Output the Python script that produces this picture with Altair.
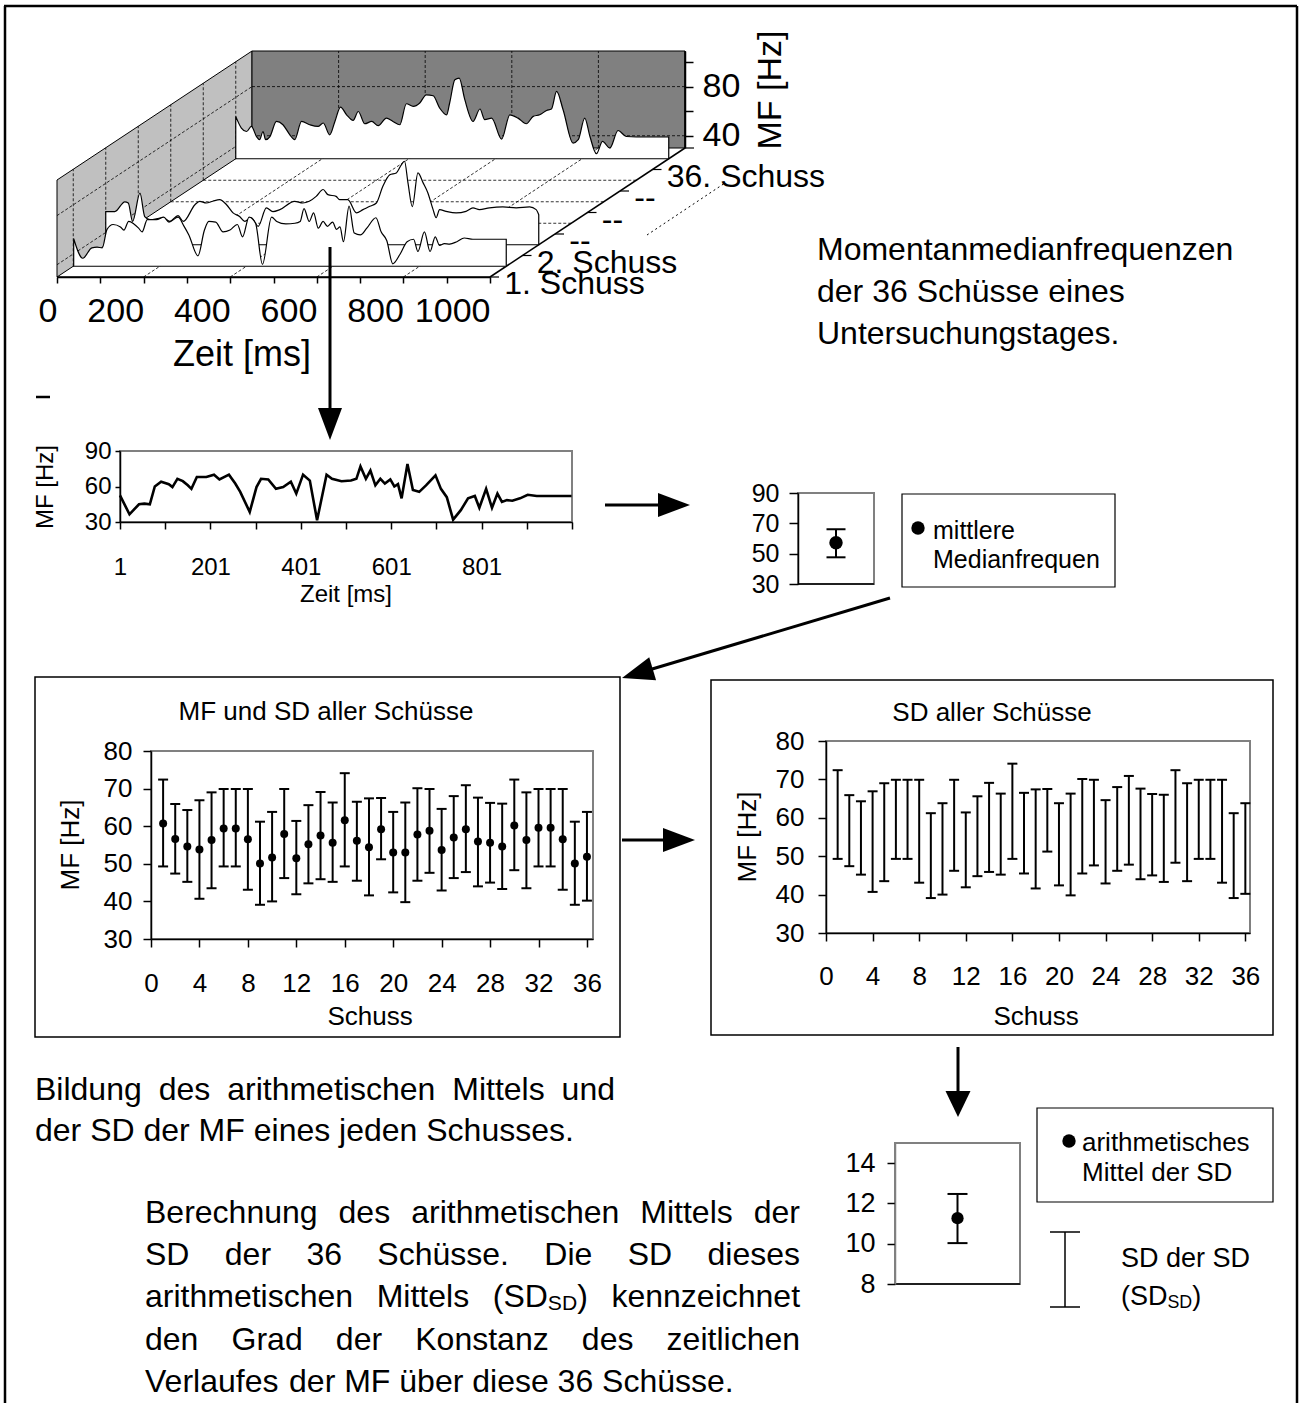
import math
import re
import altair as alt
import pandas as pd

FONT = "Liberation Sans"

# ------------------------------------------------------------------ data
# MF time course of shot 1 (line chart and front trace of the 3D chart)
shot1_time = [1, 22, 43, 55, 67, 78, 92, 109, 117, 128, 140, 151, 159, 171, 192, 209, 221, 242, 256, 267,
              288, 303, 313, 329, 346, 362, 379, 391, 406, 421, 437, 458, 470, 491, 512, 524, 533, 545, 555,
              566, 577, 587, 599, 608, 616, 624, 637, 649, 663, 678, 699, 711, 724, 738, 755, 771, 786, 796,
              811, 824, 836, 846, 857, 869, 886, 903, 923, 1000]
shot1_mf = [52.5, 36.5, 45, 45.5, 45, 60, 64, 62, 59.5, 66.5, 64.5, 61, 58, 68, 68, 70, 66, 70, 62.5, 55.5,
            38.5, 59.5, 66.5, 66, 58, 59.5, 64, 54, 70, 65, 31.5, 70, 66.5, 64.5, 65, 66.5, 77, 66.5, 73.5,
            61, 66.5, 62.5, 66, 60, 62, 50, 79, 57, 55.5, 61, 69.5, 58, 51, 32, 40, 50, 52, 42, 58, 42, 54,
            47, 48.5, 48, 50, 53, 52, 52]
# shot 2 (second trace of the 3D chart)
shot2_time = [0, 21, 44, 52, 62, 79, 90, 102, 132, 148, 167, 179, 206, 217, 232, 247, 263, 279, 294, 309,
              321, 336, 352, 371, 386, 402, 436, 455, 470, 486, 502, 513, 532, 540, 559, 579, 594, 610, 625,
              640, 656, 671, 683, 690, 698, 708, 721, 733, 744, 756, 763, 771, 786, 809, 832, 848, 863, 886,
              917, 948, 979, 994, 1000]
shot2_mf = [57, 57, 65, 64, 49, 72, 53, 50.4, 52, 49, 53.7, 49, 62.6, 65.4, 64, 65.4, 66.7, 62.6, 56, 53,
            49, 52, 45, 60, 57, 58.6, 65.4, 64, 65.4, 69.4, 75, 70.8, 69.4, 66.7, 66.7, 56, 58.6, 61.3, 64,
            77.6, 87, 88.5, 95.3, 98, 80.4, 61, 88.5, 80.4, 72.2, 58.6, 52, 58.6, 57.2, 55.9, 57.2, 60, 58.6,
            60, 60.8, 60, 60.8, 58.6, 54.5]
# shot 36 (back trace of the 3D chart)
shot36_time = [0, 13, 25, 36, 48, 55, 63, 69, 79, 94, 109, 125, 136, 152, 171, 190, 202, 217, 229, 242,
               256, 271, 283, 298, 314, 329, 348, 363, 379, 394, 410, 425, 440, 456, 471, 487, 494, 506, 516,
               529, 548, 564, 575, 591, 614, 633, 652, 671, 687, 702, 718, 729, 741, 756, 779, 791, 806, 818,
               833, 847, 864, 883, 902, 925, 1000]
shot36_mf = [64.5, 55, 52.2, 56.3, 48.1, 45.5, 52.2, 45.5, 48.1, 60.4, 57.7, 49.5, 45.5, 60.4, 57.7, 56.3,
             59.1, 49.5, 60.4, 72.1, 65.8, 61.2, 68.5, 58.5, 60.4, 56.9, 63.1, 60.4, 57.7, 74.8, 72.6, 75.4,
             82.1, 81.3, 71.3, 65.8, 75.4, 94.3, 95.7, 78.1, 60.4, 70.5, 61.8, 63.1, 46, 65.8, 63.1, 58.5,
             64.5, 65.8, 69.3, 70.5, 84.8, 69.9, 42.8, 45.5, 63.1, 48.1, 34.1, 44.1, 38.7, 53, 48.1, 47.7,
             47.7]
series_labels = ["1. Schuss", "2. Schuss", "--", "--", "--", "36. Schuss"]

shot_no = list(range(1, 37))
shot_mean = [60.7, 56.6, 54.6, 53.8, 56.3, 59.4, 59.4, 56.5, 50.1, 51.7, 57.9, 51.5, 55.2, 57.5, 55.6, 61.6,
             56.1, 54.4, 59.2, 53.0, 53.0, 57.8, 58.8, 53.7, 57.0, 59.2, 55.9, 55.6, 54.6, 60.2, 56.3, 59.6,
             59.6, 56.5, 50.1, 51.9]
shot_upper = [72.4, 65.9, 64.3, 66.9, 69.0, 69.9, 69.9, 69.9, 61.2, 63.8, 69.9, 61.4, 65.6, 69.1, 66.3, 74.1,
              66.5, 67.4, 67.5, 63.8, 66.3, 70.1, 69.9, 64.6, 68.0, 70.9, 67.6, 66.2, 66.0, 72.4, 69.0, 69.9,
              69.9, 69.9, 61.2, 63.8]
shot_lower = [49.3, 47.4, 45.2, 40.7, 43.5, 49.3, 49.3, 43.1, 39.1, 40.0, 46.2, 41.9, 44.8, 45.9, 45.2, 49.3,
              45.5, 41.6, 51.2, 42.4, 39.8, 45.5, 47.6, 42.9, 46.2, 47.8, 44.0, 45.0, 43.3, 48.3, 43.5, 49.3,
              49.3, 43.1, 39.1, 40.2]
day_mean, day_upper, day_lower = [57.2], [66.1], [47.6]
sd_mean, sd_upper, sd_lower = [11.27], [12.47], [10.03]

time_ticks = list(range(0, 1001, 100))
lc_ticks = list(range(1, 1002, 100))
mf_ticks_3d = [40, 60, 80, 100]
shot_ticks = list(range(0, 37, 4))
mf_ticks = [30, 40, 50, 60, 70, 80]

# ------------------------------------------------------------------ helpers
W, H = 1300, 1403
ONE = pd.DataFrame({"o": [0]})


def lin(domain, rng):
    return alt.Scale(domain=domain, range=rng, nice=False, zero=False)


def ax(orient, pos, values, fs, tick=8, pad=6, expr=None, fmt=None, dcolor="black", **kw):
    if orient == "left":
        off = -pos
    elif orient == "right":
        off = pos - W
    else:
        off = pos - H
    d = dict(orient=orient, offset=off, values=values, labelFontSize=fs, tickSize=tick,
             labelPadding=pad, title=None, grid=False, domainColor=dcolor, tickColor="black",
             labelColor="black", labelFlush=False, labelOverlap=False, zindex=1,
             domainWidth=1.5, tickWidth=1.5, labelFont=FONT)
    if expr:
        d["labelExpr"] = expr
    if fmt:
        d["format"] = fmt
    d.update(kw)
    return alt.Axis(**d)


def rules(segs, color="black", width=1.0, dash=None):
    df = pd.DataFrame(segs, columns=["x", "y", "x2", "y2"])
    mk = dict(color=color, strokeWidth=width)
    if dash:
        mk["strokeDash"] = dash
    return alt.Chart(df).mark_rule(**mk).encode(
        x=alt.X("x:Q", scale=None, axis=None), y=alt.Y("y:Q", scale=None, axis=None),
        x2="x2:Q", y2="y2:Q")


def frames(rects, color, width):
    df = pd.DataFrame(rects, columns=["x", "y", "x2", "y2"])
    return alt.Chart(df).mark_rect(fillOpacity=0, stroke=color, strokeWidth=width).encode(
        x=alt.X("x:Q", scale=None, axis=None), y=alt.Y("y:Q", scale=None, axis=None),
        x2="x2:Q", y2="y2:Q")


def dots(pts, size):
    df = pd.DataFrame(pts, columns=["x", "y"])
    return alt.Chart(df).mark_circle(color="black", size=size, opacity=1).encode(
        x=alt.X("x:Q", scale=None, axis=None), y=alt.Y("y:Q", scale=None, axis=None))


def poly(rows, fill):
    df = pd.DataFrame(rows, columns=["x", "y", "y2"])
    return alt.Chart(df).mark_area(fill=fill, stroke="black", strokeWidth=1, opacity=1).encode(
        x=alt.X("x:Q", scale=None, axis=None), y=alt.Y("y:Q", scale=None, axis=None), y2="y2:Q")


def arrow(x1, y1, x2, y2, hl=32, hw=24, lw=3):
    L = math.hypot(x2 - x1, y2 - y1)
    ux, uy = (x2 - x1) / L, (y2 - y1) / L
    line = rules([(x1, y1, x2 - ux * hl * 0.6, y2 - uy * hl * 0.6)], width=lw)
    cx, cy = x2 - ux * hl / 2, y2 - uy * hl / 2
    ang = math.degrees(math.atan2(-ux, uy)) % 360
    k = hw / hl
    head = alt.Chart(ONE).mark_point(shape=f"M{-k:.3f},-1L{k:.3f},-1L0,1Z", filled=True, color="black",
                                     size=hl * hl, angle=ang, opacity=1, strokeWidth=0).encode(
        x=alt.value(cx), y=alt.value(cy))
    return [line, head]


CW = {c: 556 for c in "0123456789"}
CW.update({" ": 278, ".": 278, ",": 278, "(": 333, ")": 333, "-": 333, "[": 278, "]": 278})
CW.update(dict(A=667, B=667, C=722, D=722, E=667, F=611, G=778, H=722, I=278, J=500, K=667, L=556, M=833,
               N=722, O=778, P=667, Q=778, R=722, S=667, T=611, U=722, V=667, W=944, X=667, Y=667, Z=611))
CW.update(dict(a=556, b=556, c=500, d=556, e=556, f=278, g=556, h=556, i=222, j=222, k=500, l=222, m=833,
               n=556, o=556, p=556, q=556, r=333, s=500, t=278, u=556, v=500, w=722, x=500, y=500, z=500))
CW.update({"ü": 556, "ä": 556, "ö": 556, "ß": 611})
SUB = 0.66


def tw(s, fs):
    return sum(CW.get(c, 556) for c in s) * fs / 1000.0


def runs_of(word):
    out = []
    for piece in re.split(r"(\{[^}]*\})", word):
        if not piece:
            continue
        if piece.startswith("{"):
            out.append((piece[1:-1], True))
        else:
            out.append((piece, False))
    return out


def text_line(line, left, right, y, fs, justify):
    words = [runs_of(w) for w in line.split(" ")]
    widths = [sum(tw(t, fs * SUB if s else fs) for t, s in w) for w in words]
    if justify and len(words) > 1:
        gap = (right - left - sum(widths)) / (len(words) - 1)
    else:
        gap = tw(" ", fs)
    rows = []
    x = left
    for w, wd in zip(words, widths):
        xx = x
        for t, s in w:
            f = fs * SUB if s else fs
            rows.append(dict(x=xx, y=y + (0.22 * fs if s else 0), text=t, fs=f))
            xx += tw(t, f)
        x += wd + gap
    return rows


def texts(rows, align="left", angle=0):
    df = pd.DataFrame(rows, columns=["x", "y", "text", "fs"])
    mk = dict(align=align, baseline="middle", color="black", font=FONT)
    if angle:
        mk["angle"] = angle
    return alt.Chart(df).mark_text(**mk).encode(
        x=alt.X("x:Q", scale=None, axis=None), y=alt.Y("y:Q", scale=None, axis=None),
        text="text:N", size=alt.Size("fs:Q", scale=None, legend=None))


layers = []

# ------------------------------------------------------------------ 3D waterfall chart
X0, Y0, TX, DX, DY, VY = 57.0, 277.0, 0.433, 32.5, 21.5, 97.0 / 79.0
VTOP = 109


def P(t, d, v):
    return (X0 + TX * t + DX * d, Y0 - DY * d - VY * (v - 30))


# walls
a, b = P(0, 0, VTOP), P(0, 0, 30)
c, e = P(0, 6, VTOP), P(0, 6, 30)
layers.append(poly([(a[0], a[1], b[1]), (c[0], c[1], e[1])], "#c0c0c0"))
f1, f2 = P(1000, 6, VTOP), P(1000, 6, 30)
layers.append(poly([(c[0], c[1], e[1]), (f1[0], f1[1], f2[1])], "#808080"))

dashed = []
for t in (200, 400, 600, 800):
    p, q = P(t, 6, 30), P(t, 6, VTOP)
    dashed.append((p[0], p[1], q[0], q[1]))
    p, q = P(t, 0, 30), P(t, 6, 30)
    dashed.append((p[0], p[1], q[0], q[1]))
for v in (40, 80):
    p, q = P(0, 6, v), P(1000, 6, v)
    dashed.append((p[0], p[1], q[0], q[1]))
    p, q = P(0, 0, v), P(0, 6, v)
    dashed.append((p[0], p[1], q[0], q[1]))
for k in range(6):
    p, q = P(0, k + 0.5, 30), P(0, k + 0.5, VTOP)
    dashed.append((p[0], p[1], q[0], q[1]))
for d in (2.5, 3.5, 4.5):
    p, q = P(0, d, 30), P(1000, d, 30)
    dashed.append((p[0], p[1], q[0], q[1]))
layers.append(rules(dashed, width=0.8, dash=[3, 2]))
p, q = P(1000, 0, 30), P(1000, 6, 30)
layers.append(rules([(p[0], p[1], q[0], q[1])], width=1.5))


def trace(ts, vs, d):
    df = pd.DataFrame({"t": ts, "v": vs})
    xa, yb = P(0, d, 30)
    xb, _ = P(1000, d, 30)
    _, yt = P(0, d, VTOP)
    return alt.Chart(df).mark_area(fill="white", stroke="black", strokeWidth=1.2, opacity=1,
                                   interpolate="monotone").encode(
        x=alt.X("t:Q", scale=lin([0, 1000], [xa, xb]), axis=None),
        y=alt.Y("v:Q", scale=lin([30, VTOP], [yb, yt]), axis=None),
        y2=alt.datum(30))


layers.append(trace(shot36_time, shot36_mf, 5.5))
layers.append(trace(shot2_time, shot2_mf, 1.5))
layers.append(trace(shot1_time, shot1_mf, 0.5))

# front time axis
fx0, fx1 = P(0, 0, 30)[0], P(1000, 0, 30)[0]
layers.append(alt.Chart(pd.DataFrame({"t": [0], "t2": [1000]})).mark_rule(color="black", strokeWidth=1.5).encode(
    x=alt.X("t:Q", scale=lin([0, 1000], [fx0, fx1]),
            axis=ax("bottom", Y0, time_ticks, 34, tick=6, pad=28, fmt="d",
                    expr="datum.value % 200 === 0 ? datum.label : ''",
                    labelAlign="right", labelBaseline="middle")),
    x2="t2:Q", y=alt.value(Y0)))
# MF axis at the back wall
bx = P(1000, 6, 30)[0]
layers.append(alt.Chart(pd.DataFrame({"lo": [30], "hi": [VTOP]})).mark_rule(color="black", strokeWidth=1.5).encode(
    x=alt.value(bx),
    y=alt.Y("lo:Q", scale=lin([30, VTOP], [P(0, 6, 30)[1], P(0, 6, VTOP)[1]]),
            axis=ax("right", bx, mf_ticks_3d, 34, tick=8, pad=9,
                    expr="datum.value % 40 === 0 ? datum.label : ''")),
    y2="hi:Q"))
# depth (series) axis
dep = pd.DataFrame({"d": [k + 0.5 for k in range(6)], "lab": series_labels})
dsx = lin([0, 6], [P(1000, 0, 30)[0], P(1000, 6, 30)[0]])
dsy = lin([0, 6], [P(1000, 0, 30)[1], P(1000, 6, 30)[1]])
layers.append(alt.Chart(dep).mark_text(align="left", baseline="middle", fontSize=32, dx=-2, dy=18,
                                       color="black", font=FONT).encode(
    x=alt.X("d:Q", scale=dsx, axis=None), y=alt.Y("d:Q", scale=dsy, axis=None), text="lab:N"))
layers.append(alt.Chart(pd.DataFrame({"d": list(range(7))})).mark_rule(color="black", strokeWidth=1.2,
                                                                      x2Offset=9).encode(
    x=alt.X("d:Q", scale=dsx, axis=None), x2="d:Q", y=alt.Y("d:Q", scale=dsy, axis=None)))
layers.append(rules([(647, 235, 725, 183)], width=1, dash=[2, 3]))

# ------------------------------------------------------------------ line chart (shot 1)
lc = pd.DataFrame({"t": shot1_time, "mf": shot1_mf})
layers.append(frames([(120, 451, 572, 522)], "#808080", 2))
layers.append(alt.Chart(lc).mark_line(color="black", strokeWidth=2.6).encode(
    x=alt.X("t:Q", scale=lin([1, 1001], [120, 572]),
            axis=ax("bottom", 522, lc_ticks, 24, tick=7, pad=38, fmt="d", labelBaseline="middle",
                    expr="(datum.value - 1) % 200 === 0 && datum.value < 1000 ? datum.label : ''")),
    y=alt.Y("mf:Q", scale=lin([30, 90], [522, 451]), axis=ax("left", 120, [30, 60, 90], 24, tick=5, pad=4))))


# ------------------------------------------------------------------ error-bar helper
def errbars(df, xcol, sx, sy, cap, lw, xaxis=None, yaxis=None, point=None):
    base = alt.Chart(df)
    out = [base.mark_rule(color="black", strokeWidth=lw).encode(
        x=alt.X(f"{xcol}:Q", scale=sx, axis=xaxis), y=alt.Y("lo:Q", scale=sy, axis=yaxis), y2="hi:Q")]
    for col in ("lo", "hi"):
        out.append(base.mark_tick(orient="horizontal", size=cap, thickness=lw, color="black", opacity=1).encode(
            x=alt.X(f"{xcol}:Q", scale=sx, axis=None), y=alt.Y(f"{col}:Q", scale=sy, axis=None)))
    if point:
        out.append(base.mark_circle(color="black", size=point, opacity=1).encode(
            x=alt.X(f"{xcol}:Q", scale=sx, axis=None), y=alt.Y("m:Q", scale=sy, axis=None)))
    return out


# small chart: mean MF of one shot
sp = pd.DataFrame({"pos": [0.5], "m": day_mean, "lo": day_lower, "hi": day_upper})
layers.append(frames([(798, 493, 874, 584)], "#808080", 2))
layers.append(rules([(798, 584, 874, 584)], width=1.5))
layers += errbars(sp, "pos", lin([0, 1], [798, 874]), lin([30, 90], [584, 493]), 19, 2,
                  yaxis=ax("left", 798, [30, 50, 70, 90], 25, tick=9, pad=10), point=180)
layers.append(frames([(902, 494, 1115, 587)], "black", 1.2))
layers.append(dots([(918, 528)], 180))

# big left chart: MF and SD of all shots
bl = pd.DataFrame({"s": shot_no, "m": shot_mean, "lo": shot_lower, "hi": shot_upper})
layers.append(frames([(35, 677, 620, 1037)], "black", 1.5))
layers.append(frames([(151, 751, 593, 939)], "#808080", 2))
layers += errbars(bl, "s", lin([0, 36.5], [151, 593]), lin([30, 80], [939, 751]), 10, 2,
                  xaxis=ax("bottom", 939, shot_ticks, 26, tick=8, pad=36, labelBaseline="middle"),
                  yaxis=ax("left", 151, mf_ticks, 26, tick=8, pad=11), point=64)

# big right chart: SD of all shots
layers.append(frames([(711, 680, 1273, 1035)], "black", 1.5))
layers.append(frames([(826, 741, 1250, 933)], "#808080", 2))
layers += errbars(bl, "s", lin([0, 36.4], [826, 1250]), lin([30, 80], [933, 741]), 10, 2,
                  xaxis=ax("bottom", 933, shot_ticks, 26, tick=8, pad=35, labelBaseline="middle"),
                  yaxis=ax("left", 826, mf_ticks, 26, tick=8, pad=14))

# small chart: mean of the SDs
sdc = pd.DataFrame({"pos": [0.5], "m": sd_mean, "lo": sd_lower, "hi": sd_upper})
layers.append(frames([(895, 1143, 1020, 1284)], "#808080", 2))
layers.append(rules([(895, 1284, 1020, 1284)], width=1.5))
layers += errbars(sdc, "pos", lin([0, 1], [895, 1020]), lin([8, 15], [1284, 1143]), 20, 2,
                  yaxis=ax("left", 895, [8, 10, 12, 14], 27, tick=8, pad=12, dcolor="#808080"), point=150)
layers.append(frames([(1037, 1108, 1273, 1202)], "black", 1.2))
layers.append(dots([(1069, 1141)], 180))
layers.append(rules([(1065, 1232, 1065, 1307), (1050, 1232, 1080, 1232), (1050, 1307, 1080, 1307)], width=1.5))

# ------------------------------------------------------------------ frame, arrows
layers.append(rules([(4, 6, 1297, 6), (5, 6, 5, H), (1297, 6, 1297, H)], width=2.5))
layers.append(rules([(36, 397, 50, 397)], width=2.5))
layers += arrow(330, 247, 330, 440)
layers += arrow(605, 505, 690, 505)
layers += arrow(890, 598, 622, 678)
layers += arrow(622, 840, 695, 840)
layers += arrow(958, 1047, 958, 1117, hl=26, hw=25)

# ------------------------------------------------------------------ texts
left_rows = []
for i, s in enumerate(["Momentanmedianfrequenzen", "der 36 Schüsse eines", "Untersuchungstages."]):
    left_rows.append(dict(x=817, y=250 + 42 * i, text=s, fs=32))
left_rows += [dict(x=933, y=531, text="mittlere", fs=25), dict(x=933, y=560, text="Medianfrequen", fs=25),
              dict(x=1082, y=1143, text="arithmetisches", fs=26), dict(x=1082, y=1173, text="Mittel der SD", fs=26)]
left_rows += text_line("SD der SD", 1121, 1121, 1259, 27, False)
left_rows += text_line("(SD{SD})", 1121, 1121, 1297, 27, False)
para1 = [("Bildung des arithmetischen Mittels und", True), ("der SD der MF eines jeden Schusses.", False)]
for i, (s, j) in enumerate(para1):
    left_rows += text_line(s, 35, 615, 1090 + 41 * i, 32, j)
para2 = [("Berechnung des arithmetischen Mittels der", True), ("SD der 36 Schüsse. Die SD dieses", True),
         ("arithmetischen Mittels (SD{SD}) kennzeichnet", True), ("den Grad der Konstanz des zeitlichen", True),
         ("Verlaufes der MF über diese 36 Schüsse.", False)]
for i, (s, j) in enumerate(para2):
    left_rows += text_line(s, 145, 800, 1213 + 42.2 * i, 32, j)
layers.append(texts(left_rows, "left"))

center_rows = [dict(x=242, y=355, text="Zeit [ms]", fs=36),
               dict(x=346, y=595, text="Zeit [ms]", fs=24),
               dict(x=326, y=712, text="MF und SD aller Schüsse", fs=26),
               dict(x=370, y=1017, text="Schuss", fs=26),
               dict(x=992, y=713, text="SD aller Schüsse", fs=26),
               dict(x=1036, y=1017, text="Schuss", fs=26)]
layers.append(texts(center_rows, "center"))

rot_rows = [dict(x=771, y=90, text="MF [Hz]", fs=34),
            dict(x=46, y=487, text="MF [Hz]", fs=24),
            dict(x=71, y=845, text="MF [Hz]", fs=26),
            dict(x=748, y=837, text="MF [Hz]", fs=26)]
layers.append(texts(rot_rows, "center", angle=270))

chart = alt.layer(*layers).resolve_scale(x="independent", y="independent").properties(
    width=W, height=H, autosize=alt.AutoSizeParams(type="none"), padding=0
).configure(font=FONT).configure_view(stroke=None).configure_axis(grid=False)

chart.save("out.html", embed_options={"renderer": "svg", "actions": False})
